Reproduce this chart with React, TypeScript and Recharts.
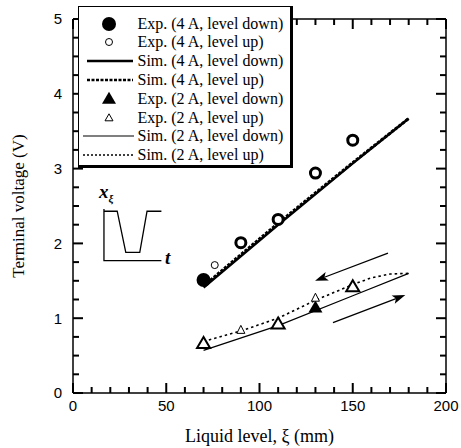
import React from 'react';
import { ComposedChart, Line, Scatter, XAxis, YAxis, ReferenceLine } from 'recharts';

// --- axis ticks (majors carry a label, the rest are short inward marks) ---
const xTicks = [0, 10, 20, 30, 40, 50, 60, 70, 80, 90, 100, 110, 120, 130, 140, 150, 160, 170, 180, 190, 200];
const xLabels = [0, 50, 100, 150, 200];
const yTicks = [0, 0.25, 0.5, 0.75, 1, 1.25, 1.5, 1.75, 2, 2.25, 2.5, 2.75, 3, 3.25, 3.5, 3.75, 4, 4.25, 4.5, 4.75, 5];
const yLabels = [0, 1, 2, 3, 4, 5];

// --- 4 A ---
const exp4Down = [{ x: 70, y: 1.51 }];
const exp4Up = [{ x: 76, y: 1.71 }];
const exp4Open = [
  { x: 90, y: 2.01 },
  { x: 110, y: 2.32 },
  { x: 130, y: 2.94 },
  { x: 150, y: 3.38 },
];
const sim4Down = [
  { x: 70, y: 1.41 },
  { x: 110, y: 2.25 },
  { x: 150, y: 3.07 },
  { x: 180, y: 3.67 },
];
const sim4Up = [
  { x: 70, y: 1.43 },
  { x: 110, y: 2.27 },
  { x: 150, y: 3.08 },
  { x: 180, y: 3.67 },
];

// --- 2 A ---
const exp2Down = [{ x: 130, y: 1.14 }];
const exp2Up = [
  { x: 70, y: 0.66 },
  { x: 110, y: 0.92 },
  { x: 150, y: 1.42 },
];
const exp2UpSmall = [
  { x: 90, y: 0.84 },
  { x: 130, y: 1.27 },
];
const sim2Down = [
  { x: 70, y: 0.57 },
  { x: 110, y: 0.9 },
  { x: 150, y: 1.3 },
  { x: 180, y: 1.6 },
];
const sim2Up = [
  { x: 70, y: 0.69 },
  { x: 90, y: 0.83 },
  { x: 110, y: 1.0 },
  { x: 130, y: 1.24 },
  { x: 150, y: 1.45 },
  { x: 160, y: 1.54 },
  { x: 170, y: 1.59 },
  { x: 180, y: 1.6 },
];

// arrows (tail -> head)
const arrowDown = [{ x: 168.9, y: 1.87 }, { x: 129.8, y: 1.5 }];
const arrowUp = [{ x: 139.4, y: 0.94 }, { x: 178.2, y: 1.31 }];

// inset sketch of the liquid level x_xi vs t
const insetAxes = [
  { x: 16.6, y: 2.46 },
  { x: 16.6, y: 1.77 },
  { x: 47.4, y: 1.77 },
];
const insetSignal = [
  { x: 16.6, y: 2.43 },
  { x: 23.7, y: 2.43 },
  { x: 28.3, y: 1.88 },
  { x: 35.8, y: 1.88 },
  { x: 39.7, y: 2.43 },
  { x: 47.4, y: 2.43 },
];

const legendItems = [
  { label: 'Exp. (4 A, level down)', kind: 'dotFilled' },
  { label: 'Exp. (4 A, level up)', kind: 'dotOpen' },
  { label: 'Sim. (4 A, level down)', kind: 'lineThick' },
  { label: 'Sim. (4 A, level up)', kind: 'dashThick' },
  { label: 'Exp. (2 A, level down)', kind: 'triFilled' },
  { label: 'Exp. (2 A, level up)', kind: 'triOpen' },
  { label: 'Sim. (2 A, level down)', kind: 'lineThin' },
  { label: 'Sim. (2 A, level up)', kind: 'dashThin' },
];

const W = 461;
const H = 448;
const MARGIN = { top: 19, right: 15, bottom: 0, left: 0 };
const Y_AXIS_W = 73;
const X_AXIS_H = 55;
const PLOT_TOP = MARGIN.top;
const PLOT_BOTTOM = H - X_AXIS_H;
const PLOT_LEFT = Y_AXIS_W;
const PLOT_RIGHT = W - MARGIN.right;

const serif = '"Liberation Serif", "Times New Roman", serif';
const sans = '"Liberation Sans", Arial, sans-serif';

const tri = (cx: number, cy: number, w: number, h: number) =>
  `M${cx},${cy - h * 0.6}L${cx - w},${cy + h * 0.4}L${cx + w},${cy + h * 0.4}Z`;

// bottom axis tick: label for majors, inward marks on bottom and top edges
const XTick = (props: any) => {
  const { x, y, payload } = props;
  const v = payload.value;
  const major = xLabels.includes(v);
  const len = major ? 10 : 6;
  return (
    <g>
      <line x1={x} y1={PLOT_BOTTOM} x2={x} y2={PLOT_BOTTOM - len} stroke="#000" strokeWidth={2} />
      <line x1={x} y1={PLOT_TOP} x2={x} y2={PLOT_TOP + len} stroke="#000" strokeWidth={2} />
      {major && (
        <text x={x} y={y} dy="0.71em" textAnchor="middle" fill="#000" fontSize={15} fontFamily={sans}>
          {v}
        </text>
      )}
    </g>
  );
};

// left axis tick: label for majors, inward marks on left and right edges
const YTick = (props: any) => {
  const { x, y, payload } = props;
  const v = payload.value;
  const major = yLabels.includes(v);
  const len = major ? 10 : 6;
  return (
    <g>
      <line x1={PLOT_LEFT} y1={y} x2={PLOT_LEFT + len} y2={y} stroke="#000" strokeWidth={2} />
      <line x1={PLOT_RIGHT} y1={y} x2={PLOT_RIGHT - len} y2={y} stroke="#000" strokeWidth={2} />
      {major && (
        <text x={x} y={y} dy="0.355em" textAnchor="end" fill="#000" fontSize={15} fontFamily={sans}>
          {v}
        </text>
      )}
    </g>
  );
};

const Arrow = (props: any) => {
  const { x1, y1, x2, y2 } = props;
  const dx = x2 - x1;
  const dy = y2 - y1;
  const len = Math.sqrt(dx * dx + dy * dy);
  const ux = dx / len;
  const uy = dy / len;
  const hl = 13;
  const hw = 4.5;
  const bx = x2 - ux * hl;
  const by = y2 - uy * hl;
  return (
    <g>
      <line x1={x1} y1={y1} x2={bx + ux * 3} y2={by + uy * 3} stroke="#000" strokeWidth={1.3} />
      <path
        d={`M${x2},${y2}L${bx - uy * hw},${by + ux * hw}L${bx + ux * 3},${by + uy * 3}L${bx + uy * hw},${by - ux * hw}Z`}
        fill="#000"
      />
    </g>
  );
};

const LegendSymbol = ({ kind }: { kind: string }) => {
  const cx = 30;
  const cy = 9;
  switch (kind) {
    case 'dotFilled':
      return <circle cx={cx} cy={cy} r={7} fill="#000" />;
    case 'dotOpen':
      return <circle cx={cx} cy={cy} r={3.5} fill="none" stroke="#000" strokeWidth={1} />;
    case 'lineThick':
      return <line x1={8} y1={cy} x2={54} y2={cy} stroke="#000" strokeWidth={2.5} />;
    case 'dashThick':
      return <line x1={8} y1={cy} x2={54} y2={cy} stroke="#000" strokeWidth={2.5} strokeDasharray="3 1.5" />;
    case 'triFilled':
      return <path d={tri(cx, cy, 7, 12)} fill="#000" />;
    case 'triOpen':
      return <path d={tri(cx, cy, 4, 7)} fill="none" stroke="#000" strokeWidth={1} />;
    case 'lineThin':
      return <line x1={4} y1={cy} x2={55} y2={cy} stroke="#000" strokeWidth={1.2} />;
    default:
      return <line x1={4} y1={cy} x2={55} y2={cy} stroke="#000" strokeWidth={1.3} strokeDasharray="2 2" />;
  }
};

export default function App() {
  return (
    <div style={{ position: 'absolute', left: 0, top: 0, width: W, height: H, background: '#fff' }}>
      <ComposedChart width={W} height={H} margin={MARGIN}>
        <XAxis
          type="number"
          dataKey="x"
          domain={[0, 200]}
          ticks={xTicks}
          interval={0}
          height={X_AXIS_H}
          stroke="#000"
          strokeWidth={1.5}
          tickSize={6}
          tickMargin={1}
          tickLine={false}
          tick={<XTick />}
          label={{ value: 'Liquid level, ξ (mm)', position: 'insideBottom', offset: 6, fill: '#000', fontSize: 18, fontFamily: serif }}
        />
        <YAxis
          type="number"
          dataKey="y"
          domain={[0, 5]}
          ticks={yTicks}
          interval={0}
          width={Y_AXIS_W}
          stroke="#000"
          strokeWidth={1.5}
          tickSize={6}
          tickMargin={5}
          tickLine={false}
          tick={<YTick />}
          label={{
            value: 'Terminal voltage (V)',
            angle: -90,
            position: 'insideLeft',
            offset: 18,
            fill: '#000',
            fontSize: 17,
            fontFamily: serif,
            style: { textAnchor: 'middle' },
          }}
        />

        {/* top and right edges of the frame */}
        <ReferenceLine y={5} stroke="#000" strokeWidth={1.5} />
        <ReferenceLine x={200} stroke="#000" strokeWidth={1.5} />

        {/* simulations */}
        <Line data={sim4Down} dataKey="y" type="linear" stroke="#000" strokeWidth={2.5} dot={false} isAnimationActive={false} />
        <Line data={sim4Up} dataKey="y" type="linear" stroke="#000" strokeWidth={3} strokeDasharray="3 1.5" dot={false} isAnimationActive={false} />
        <Line data={sim2Down} dataKey="y" type="linear" stroke="#000" strokeWidth={1.2} dot={false} isAnimationActive={false} />
        <Line data={sim2Up} dataKey="y" type="linear" stroke="#000" strokeWidth={1.6} strokeDasharray="2.5 3" dot={false} isAnimationActive={false} />

        {/* inset */}
        <Line data={insetAxes} dataKey="y" type="linear" stroke="#000" strokeWidth={1.3} dot={false} isAnimationActive={false} />
        <Line data={insetSignal} dataKey="y" type="linear" stroke="#000" strokeWidth={1.3} dot={false} isAnimationActive={false} />

        {/* experiments */}
        <Scatter data={exp4Open} dataKey="y" isAnimationActive={false}
          shape={(p: any) => <circle cx={p.cx} cy={p.cy} r={5} fill="#fff" stroke="#000" strokeWidth={3} />} />
        <Scatter data={exp4Down} dataKey="y" isAnimationActive={false}
          shape={(p: any) => <circle cx={p.cx} cy={p.cy} r={7} fill="#000" />} />
        <Scatter data={exp4Up} dataKey="y" isAnimationActive={false}
          shape={(p: any) => <circle cx={p.cx} cy={p.cy} r={3.5} fill="#fff" stroke="#000" strokeWidth={1} />} />
        <Scatter data={exp2Up} dataKey="y" isAnimationActive={false}
          shape={(p: any) => <path d={tri(p.cx, p.cy, 6.5, 11)} fill="#fff" stroke="#000" strokeWidth={2} />} />
        <Scatter data={exp2Down} dataKey="y" isAnimationActive={false}
          shape={(p: any) => <path d={tri(p.cx, p.cy, 7, 12)} fill="#000" />} />
        <Scatter data={exp2UpSmall} dataKey="y" isAnimationActive={false}
          shape={(p: any) => <path d={tri(p.cx, p.cy, 4, 8)} fill="#fff" stroke="#000" strokeWidth={1} />} />

        {/* direction arrows */}
        <ReferenceLine segment={arrowDown} shape={Arrow} />
        <ReferenceLine segment={arrowUp} shape={Arrow} />
      </ComposedChart>

      {/* inset labels */}
      <div style={{ position: 'absolute', left: 99, top: 182, fontFamily: serif, fontSize: 19, fontStyle: 'italic', fontWeight: 'bold', lineHeight: 1 }}>
        x<span style={{ fontSize: 11, position: 'relative', top: 4 }}>ξ</span>
      </div>
      <div style={{ position: 'absolute', left: 165, top: 248, fontFamily: serif, fontSize: 19, fontStyle: 'italic', fontWeight: 'bold', lineHeight: 1 }}>
        t
      </div>

      {/* legend box */}
      <div
        style={{
          position: 'absolute',
          left: 78,
          top: 6,
          width: 211,
          height: 158,
          background: '#fff',
          borderTop: '1.5px solid #000',
          borderLeft: '1.5px solid #000',
          borderRight: '3px solid #000',
          borderBottom: '3px solid #000',
        }}
      >
        {legendItems.map((item, i) => (
          <div key={item.label} style={{ position: 'absolute', left: 0, top: 7.5 + i * 18.8, height: 18, width: 211 }}>
            <svg width={60} height={18} style={{ position: 'absolute', left: 0, top: 0 }}>
              <LegendSymbol kind={item.kind} />
            </svg>
            <span
              style={{
                position: 'absolute',
                left: 58.5,
                top: 0,
                fontFamily: serif,
                fontSize: 16,
                lineHeight: '18px',
                whiteSpace: 'nowrap',
                color: '#000',
              }}
            >
              {item.label}
            </span>
          </div>
        ))}
      </div>
    </div>
  );
}
